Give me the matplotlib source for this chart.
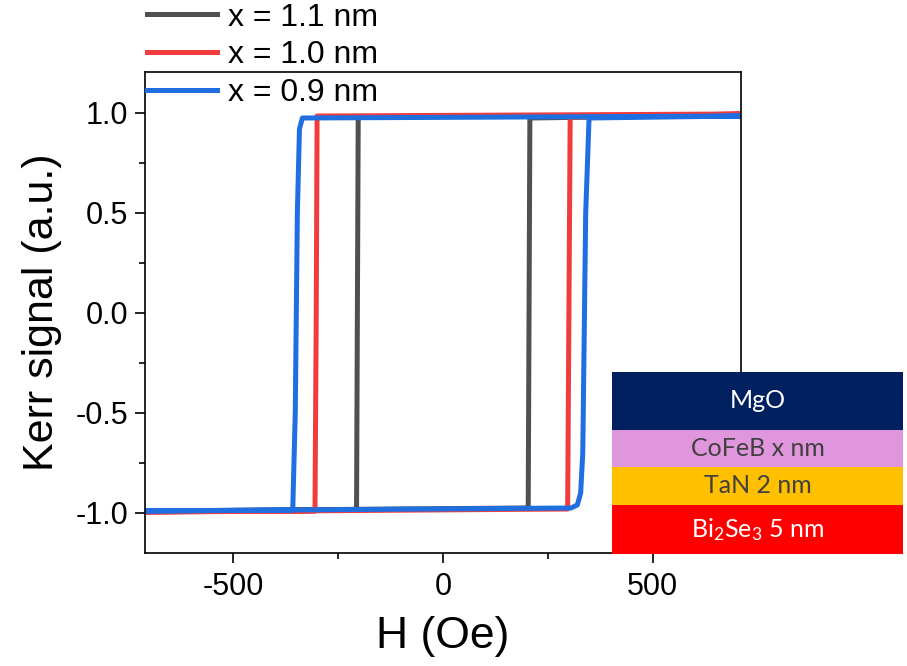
import matplotlib
matplotlib.use("Agg")
import matplotlib.pyplot as plt
from matplotlib.ticker import MultipleLocator

plt.rcParams['font.family'] = ['Liberation Sans', 'DejaVu Sans']
plt.rcParams['mathtext.default'] = 'regular'
plt.rcParams['axes.unicode_minus'] = False

# loop corner points (H in Oe, Kerr signal in a.u.)
h_11 = [-710, 203, 205, 207, 710, -202, -204, -206, -710]
m_11 = [-0.99, -0.975, 0.0, 0.975, 0.99, 0.98, 0.0, -0.985, -0.99]

h_10 = [-710, 297, 300, 303, 710, -300, -302, -305, -710]
m_10 = [-0.995, -0.98, 0.0, 0.98, 0.995, 0.985, 0.0, -0.99, -0.995]

h_09 = [-710, 305, 320, 328, 333, 340, 348, 710, -335, -342, -347, -352, -358, -710]
m_09 = [-0.99, -0.975, -0.96, -0.9, -0.7, 0.5, 0.975, 0.985, 0.975, 0.92, 0.5, -0.5, -0.985, -0.99]

labels = ['x = 1.1 nm', 'x = 1.0 nm', 'x = 0.9 nm']
colors = ['#505050', '#f03c3c', '#1f6fe0']

layers = ['Bi$_2$Se$_3$ 5 nm', 'TaN 2 nm', 'CoFeB x nm', 'MgO']
layer_h = [49, 38, 37, 58]
layer_colors = ['#ff0000', '#ffc000', '#e096dc', '#002060']
layer_text = ['white', '#404040', '#404040', 'white']

fig = plt.figure(figsize=(9.07, 6.66), dpi=100)
ax = fig.add_axes([145/907, (666-553)/666, (741-145)/907, (553-72)/666])

lines = []
for h, m, lab, c in zip([h_11, h_10, h_09], [m_11, m_10, m_09], labels, colors):
    ln, = ax.plot(h, m, color=c, lw=3.6, label=lab, solid_joinstyle='round')
    lines.append(ln)

ax.set_xlim(-710, 710)
ax.set_ylim(-1.2, 1.205)
ax.xaxis.set_major_locator(MultipleLocator(500))
ax.xaxis.set_minor_locator(MultipleLocator(250))
ax.yaxis.set_major_locator(MultipleLocator(0.5))
ax.yaxis.set_minor_locator(MultipleLocator(0.25))
ax.yaxis.set_major_formatter(matplotlib.ticker.FuncFormatter(lambda v, p: f"{v:.1f}"))
ax.tick_params(which='major', direction='out', length=7, width=1.2, labelsize=22)
ax.tick_params(which='minor', direction='out', length=4, width=1.2)
ax.tick_params(axis='x', pad=7)
ax.tick_params(axis='y', pad=5)
for s in ax.spines.values():
    s.set_linewidth(1.2)
ax.set_xlabel('H (Oe)', fontsize=32, labelpad=10)
ax.set_ylabel('Kerr signal (a.u.)', fontsize=31, labelpad=10)

fig.legend(handles=lines, loc='upper left', bbox_to_anchor=(147/907, 0.996),
           frameon=False, fontsize=23, handlelength=2.2, handletextpad=0.32,
           labelspacing=0.24, borderaxespad=0, borderpad=0)

# layer stack inset
inset = fig.add_axes([612/907, (666-554)/666, (903-612)/907, (554-372)/666])
inset.set_xlim(0, 1)
inset.set_ylim(0, sum(layer_h))
inset.axis('off')
bottom = 0
for name, t, c, tc in zip(layers, layer_h, layer_colors, layer_text):
    inset.bar(0.5, t, width=1, bottom=bottom, color=c, edgecolor='none')
    inset.text(0.5, bottom + t / 2, name, ha='center', va='center',
               color=tc, fontsize=18, family=['Lato', 'DejaVu Sans'])
    bottom += t

fig.savefig('out.png', dpi=100)
